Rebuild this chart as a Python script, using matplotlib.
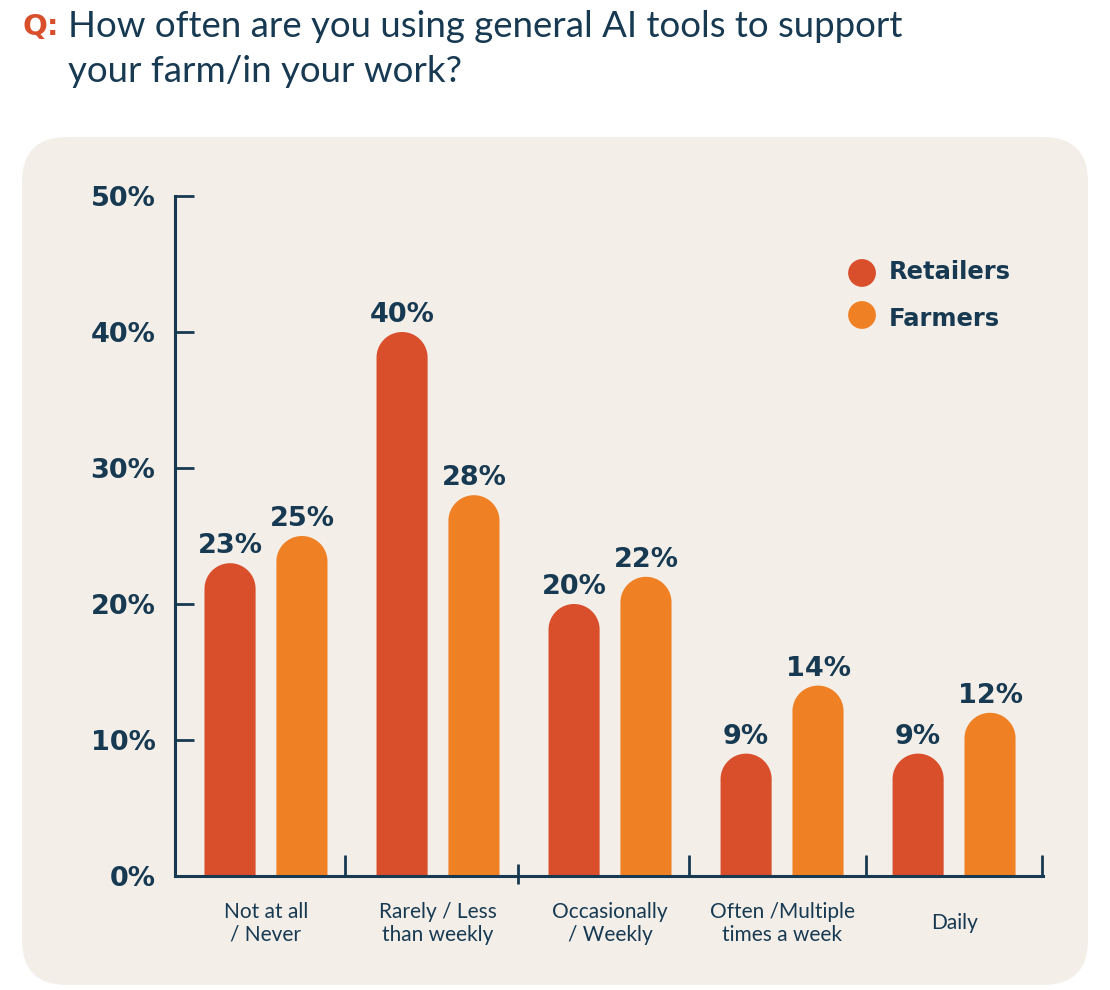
import math
import matplotlib
matplotlib.use('Agg')
import matplotlib.pyplot as plt
from matplotlib.patches import FancyBboxPatch, Polygon

# values
categories = ['Not at all\n/ Never', 'Rarely / Less\nthan weekly', 'Occasionally\n/ Weekly',
              'Often /Multiple\ntimes a week', 'Daily']
retailers = [23, 40, 20, 9, 9]
farmers = [25, 28, 22, 14, 12]
series_names = ['Retailers', 'Farmers']
yticks = [0, 10, 20, 30, 40, 50]

NAVY = '#173A52'
RED = '#D94E2B'
ORANGE = '#F08024'
PANEL = '#F3EEE8'

fig = plt.figure(figsize=(11.1, 9.9), dpi=100)
fig.patch.set_facecolor('white')

# rounded beige panel behind the chart (inches, so the corners stay round)
panel = FancyBboxPatch((0.22, 0.05), 10.66, 8.48,
                       boxstyle='round,pad=0,rounding_size=0.45',
                       transform=fig.dpi_scale_trans,
                       facecolor=PANEL, edgecolor='none', zorder=-5)
fig.patches.append(panel)

# title
fig.text(23 / 1110, 1 - 35 / 990, 'Q:', color=RED, fontsize=21, fontweight='bold',
         family='DejaVu Sans', va='baseline')
fig.text(68 / 1110, 1 - 37 / 990, 'How often are you using general AI tools to support',
         color=NAVY, fontsize=26.4, family='Lato', va='baseline')
fig.text(68 / 1110, 1 - 82 / 990, 'your farm/in your work?',
         color=NAVY, fontsize=26.4, family='Lato', va='baseline')

ax = fig.add_axes([175 / 1110, 1 - 876 / 990, 868 / 1110, 680 / 990], zorder=2)
ax.set_facecolor('none')
xmin, xmax = -0.529, 4.517
ax.set_xlim(xmin, xmax)
ax.set_ylim(0, 50)

for s in ['top', 'right']:
    ax.spines[s].set_visible(False)
for s in ['left', 'bottom']:
    ax.spines[s].set_color(NAVY)
    ax.spines[s].set_linewidth(2.2)

ax.set_yticks(yticks)
ax.set_yticklabels([f'{t}%' for t in yticks], fontsize=19.5, fontweight='bold',
                   color=NAVY, family='DejaVu Sans')
ax.tick_params(axis='y', direction='in', length=14, width=2, color=NAVY, pad=14)

x = list(range(len(categories)))
ax.set_xticks(x)
ax.tick_params(axis='x', length=0, pad=34)
ax.set_xticklabels(categories, fontsize=15, color=NAVY, family='Lato', linespacing=1.2)
for lbl in ax.get_xticklabels():
    lbl.set_va('center')

# bars with rounded tops
width = 0.297
offset = 0.209
p0 = ax.transData.transform((0, 0))
p1 = ax.transData.transform((1, 1))
px_x = p1[0] - p0[0]
px_y = p1[1] - p0[1]
r_x = width / 2
r_y = r_x * px_x / px_y


def rounded_bar(xc, h, col):
    base = h - r_y
    pts = [(xc - r_x, 0), (xc + r_x, 0), (xc + r_x, base)]
    n = 40
    for k in range(1, n):
        a = math.pi * k / n
        pts.append((xc + r_x * math.cos(a), base + r_y * math.sin(a)))
    pts.append((xc - r_x, base))
    ax.add_patch(Polygon(pts, closed=True, facecolor=col, edgecolor='none', zorder=2))


for vals, dx, col in [(retailers, -offset, RED), (farmers, offset, ORANGE)]:
    for i, v in zip(x, vals):
        rounded_bar(i + dx, v, col)
        ax.annotate(f'{v}%', (i + dx, v), xytext=(0, 7), textcoords='offset points',
                    ha='center', va='baseline', fontsize=19.5, fontweight='bold',
                    color=NAVY, family='DejaVu Sans')

# group separator ticks on the x axis
tick_h = 21 / px_y
seps = [0.46, 2.46, 3.49, xmax - 0.003]
ax.vlines(seps, 0, tick_h, color=NAVY, lw=2, clip_on=False, zorder=3)
ax.vlines([1.465], -0.6, 0.9, color=NAVY, lw=2, clip_on=False, zorder=3)

# legend
for name, col, yy, ty in [(series_names[0], RED, 0.8868, 0.888),
                          (series_names[1], ORANGE, 0.825, 0.819)]:
    ax.scatter([0.7915], [yy], s=400, color=col, transform=ax.transAxes,
               clip_on=False, zorder=3, edgecolors='none')
    ax.text(0.8226, ty, name, transform=ax.transAxes, fontsize=17.5,
            fontweight='bold', color=NAVY, family='DejaVu Sans', va='center')

fig.savefig('out.png', dpi=100)
